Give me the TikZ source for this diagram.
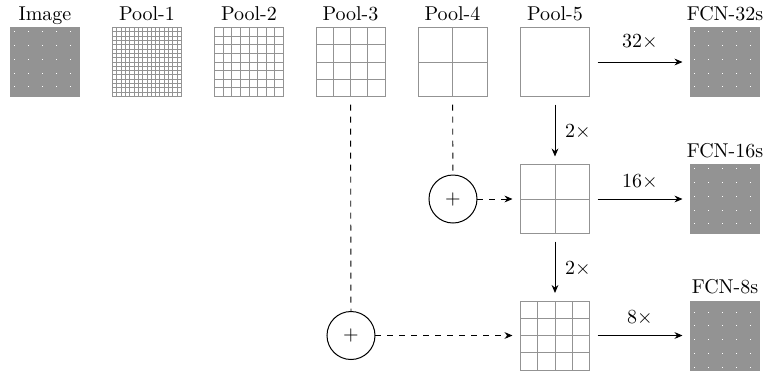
\documentclass[tikz,border=0pt]{standalone}
\usetikzlibrary{arrows.meta}

% n x n cell grid inside the square node #2 (side 34.5pt)
\newcommand\cellgrid[3][gridline]{%
  \begin{scope}[shift={(#2.center)}]
    \foreach \k in {1,...,\numexpr#3-1\relax}{%
      \pgfmathsetlengthmacro\gp{-17.25pt+\k*34.5pt/#3}%
      \draw[#1] (\gp,-17.25pt) -- (\gp,17.25pt);
      \draw[#1] (-17.25pt,\gp) -- (17.25pt,\gp);
    }
  \end{scope}}

\tikzset{
  fmap/.style={draw=gray!85, line width=0.5pt, minimum size=34.5pt,
               inner sep=0pt, outer sep=4pt},
  gridline/.style={draw=gray!85, line width=0.45pt},
  fineline/.style={draw=gray!85, line width=0.3pt},
  lab/.style={anchor=base, inner sep=0pt},
  sumnode/.style={circle, draw, line width=0.5pt, minimum size=24pt,
                  inner sep=0pt, outer sep=0pt},
  up/.style={-{Stealth[length=4pt,width=3.4pt]}, line width=0.45pt},
  skip/.style={dashed, line width=0.45pt},
}

\begin{document}
\begin{tikzpicture}[x=0.5pt, y=-0.5pt]
  \useasboundingbox (0,0) rectangle (768,371);

  % first row: input, pooling outputs and FCN-32s
  \node[fmap] (img) at (45,62) {};
  \node[fmap] (p1)  at (147,62) {};
  \node[fmap] (p2)  at (249,62) {};
  \node[fmap] (p3)  at (350.5,62) {};
  \node[fmap] (p4)  at (452.5,62) {};
  \node[fmap] (p5)  at (555,62) {};
  \node[fmap] (f32) at (725,62) {};

  % second and third rows
  \node[fmap] (b16) at (555,199) {};
  \node[fmap] (f16) at (725,199) {};
  \node[fmap] (b8)  at (555,335.5) {};
  \node[fmap] (f8)  at (725,335.5) {};

  % cell grids
  \cellgrid[fineline]{img}{64}
  \cellgrid{p1}{16}
  \cellgrid{p2}{8}
  \cellgrid{p3}{4}
  \cellgrid{p4}{2}
  \cellgrid[fineline]{f32}{64}
  \cellgrid{b16}{2}
  \cellgrid[fineline]{f16}{64}
  \cellgrid{b8}{4}
  \cellgrid[fineline]{f8}{64}

  % titles
  \node[lab] (timg) at (45,20.5)    {Image};
  \node[lab] (tp1)  at (147,20.5)   {Pool-1};
  \node[lab] (tp2)  at (249,20.5)   {Pool-2};
  \node[lab] (tp3)  at (350.5,20.5) {Pool-3};
  \node[lab] (tp4)  at (452.5,20.5) {Pool-4};
  \node[lab] (tp5)  at (555,20.5)   {Pool-5};
  \node[lab] (tf32) at (725,20.5)   {FCN-32s};
  \node[lab] (tf16) at (725,157)    {FCN-16s};
  \node[lab] (tf8)  at (725,293)    {FCN-8s};

  % summation nodes
  \node[sumnode] (s4) at (453,199) {$+$};
  \node[sumnode] (s3) at (351,335.5) {$+$};

  % upsampling arrows
  \draw[up] (p5) -- (f32) node[lab, pos=0.5, yshift=7.5pt] (u32) {$32\times$};
  \draw[up] (b16) -- (f16) node[lab, pos=0.5, yshift=6pt] (u16) {$16\times$};
  \draw[up] (b8) -- (f8) node[lab, pos=0.5, yshift=6pt] (u8) {$8\times$};
  \draw[up] (p5) -- (b16) node[lab, pos=0.5, xshift=11.5pt, yshift=-3.5pt] (u2a) {$2\times$};
  \draw[up] (b16) -- (b8) node[lab, pos=0.5, xshift=11.5pt, yshift=-3.5pt] (u2b) {$2\times$};

  % skip connections
  \draw[skip] (p4) -- (s4);
  \draw[skip, -{Stealth[length=4pt,width=3.4pt]}] (s4) -- (b16);
  \draw[skip] (p3) -- (s3);
  \draw[skip, -{Stealth[length=4pt,width=3.4pt]}] (s3) -- (b8);
\end{tikzpicture}
\end{document}
